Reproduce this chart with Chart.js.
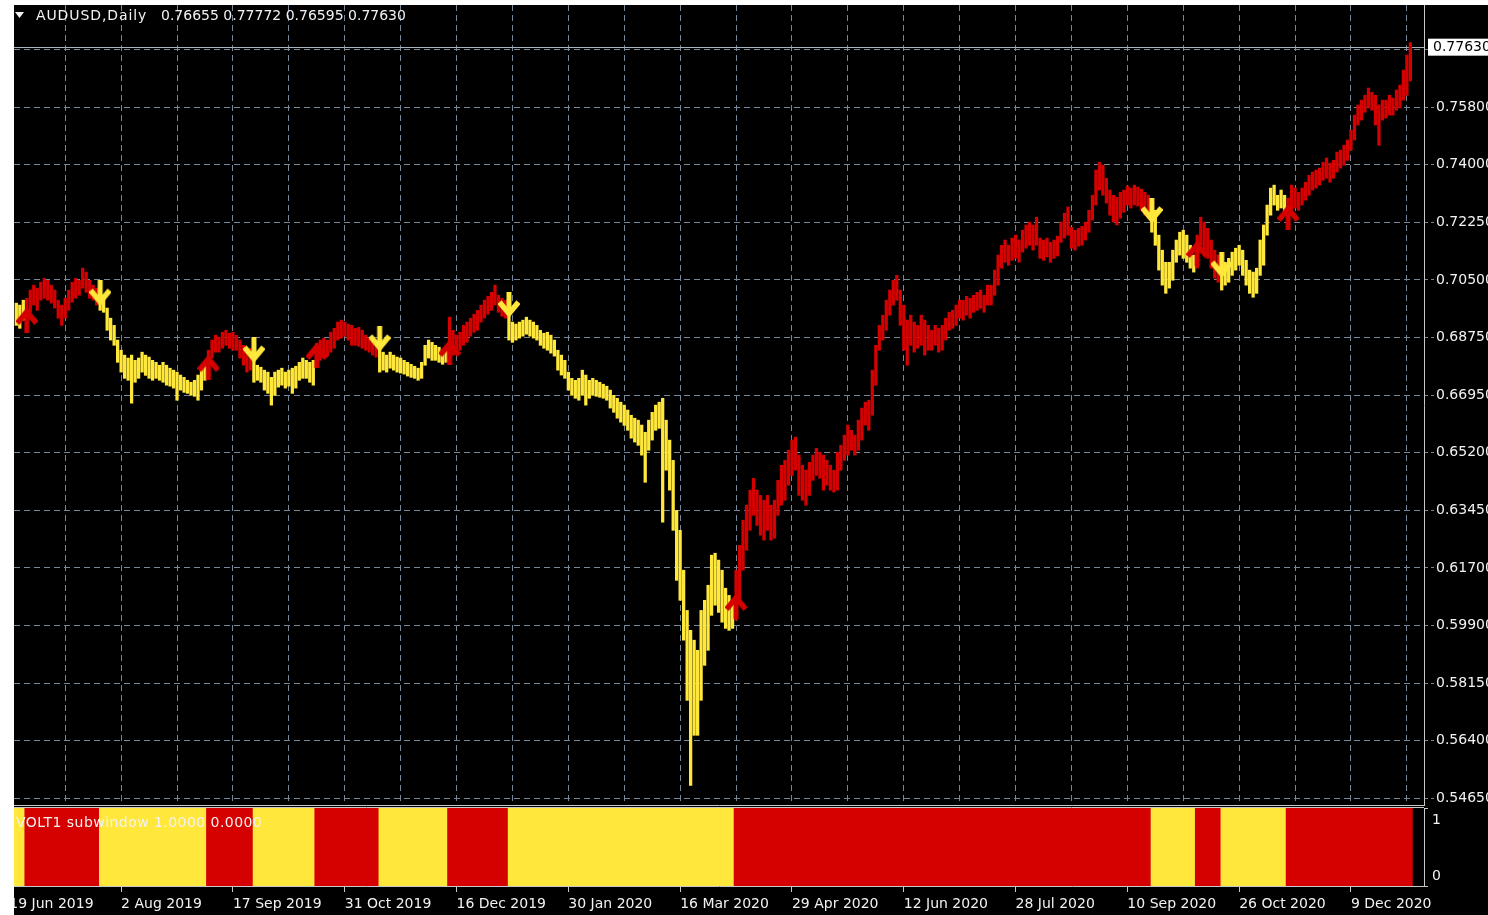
<!DOCTYPE html>
<html>
<head>
<meta charset="utf-8">
<script src="https://cdn.jsdelivr.net/npm/chart.js@4.4.1/dist/chart.umd.min.js"></script>
<style>
  html, body { margin: 0; padding: 0; background: #fff; }
  body { width: 1488px; height: 915px; position: relative; overflow: hidden; }
  #panel { position: absolute; left: 14px; top: 5px; width: 1474px; height: 910px; background: #000; }
  #main { position: absolute; left: 14px; top: 5px; width: 1474px; height: 801px; }
  #sub { position: absolute; left: 14px; top: 806px; width: 1474px; height: 109px; }
</style>
</head>
<body>
<div id="panel"></div>
<div id="main"><canvas id="mainChart"></canvas></div>
<div id="sub"><canvas id="subChart"></canvas></div>
<script>
const symbol = "AUDUSD,Daily";
const indicatorName = "VOLT1 subwindow";
const lastBar = [0.76655, 0.77772, 0.76595, 0.77630]; // open, high, low, close

// daily highs / lows, bar 0 = left edge
const highs = [
  0.6980,0.6974,0.6989,0.6995,0.7020,0.7035,0.7026,0.7044,0.7056,0.7050,
  0.7035,0.7020,0.6989,0.6974,0.6995,0.7020,0.7044,0.7056,0.7050,0.7087,
  0.7075,0.7050,0.7035,0.7026,0.7020,0.7004,0.6965,0.6934,0.6912,0.6867,
  0.6836,0.6821,0.6812,0.6821,0.6805,0.6812,0.6830,0.6821,0.6815,0.6805,
  0.6799,0.6790,0.6799,0.6790,0.6781,0.6775,0.6769,0.6760,0.6753,0.6744,
  0.6738,0.6744,0.6760,0.6781,0.6799,0.6836,0.6867,0.6882,0.6876,0.6891,
  0.6897,0.6888,0.6891,0.6882,0.6867,0.6851,0.6836,0.6842,0.6860,0.6790,
  0.6784,0.6775,0.6769,0.6753,0.6769,0.6775,0.6781,0.6769,0.6775,0.6781,
  0.6787,0.6799,0.6812,0.6805,0.6799,0.6805,0.6857,0.6867,0.6873,0.6867,
  0.6891,0.6903,0.6922,0.6928,0.6922,0.6916,0.6912,0.6903,0.6906,0.6897,
  0.6882,0.6873,0.6867,0.6860,0.6882,0.6830,0.6821,0.6830,0.6821,0.6815,
  0.6812,0.6805,0.6799,0.6793,0.6787,0.6781,0.6799,0.6851,0.6867,0.6860,
  0.6851,0.6845,0.6836,0.6842,0.6937,0.6897,0.6882,0.6891,0.6912,0.6922,
  0.6934,0.6946,0.6958,0.6974,0.6989,0.7001,0.7013,0.7035,0.7004,0.6995,
  0.6989,0.6989,0.6922,0.6916,0.6922,0.6928,0.6937,0.6928,0.6922,0.6912,
  0.6897,0.6888,0.6891,0.6882,0.6867,0.6836,0.6821,0.6805,0.6769,0.6750,
  0.6744,0.6750,0.6775,0.6760,0.6744,0.6750,0.6744,0.6738,0.6732,0.6726,
  0.6714,0.6698,0.6689,0.6677,0.6668,0.6653,0.6637,0.6628,0.6622,0.6607,
  0.6585,0.6622,0.6646,0.6668,0.6677,0.6689,0.6622,0.6561,0.6499,0.6346,
  0.6285,0.6163,0.6040,0.5979,0.5949,0.5918,0.6040,0.6071,0.6117,0.6209,
  0.6215,0.6194,0.6163,0.6108,0.6086,0.6071,0.6163,0.6239,0.6316,0.6362,
  0.6408,0.6444,0.6408,0.6392,0.6377,0.6392,0.6362,0.6377,0.6438,0.6484,
  0.6499,0.6530,0.6561,0.6570,0.6515,0.6484,0.6469,0.6493,0.6515,0.6536,
  0.6524,0.6515,0.6499,0.6484,0.6469,0.6524,0.6545,0.6576,0.6607,0.6591,
  0.6576,0.6622,0.6659,0.6677,0.6683,0.6775,0.6851,0.6912,0.6943,0.6989,
  0.7020,0.7050,0.7065,0.7020,0.6974,0.6928,0.6943,0.6922,0.6912,0.6943,
  0.6928,0.6912,0.6897,0.6912,0.6903,0.6912,0.6934,0.6952,0.6958,0.6974,
  0.6989,0.6989,0.7001,0.6995,0.7004,0.7013,0.7020,0.7004,0.7035,0.7035,
  0.7081,0.7127,0.7157,0.7173,0.7157,0.7179,0.7188,0.7173,0.7203,0.7219,
  0.7228,0.7219,0.7243,0.7179,0.7173,0.7179,0.7166,0.7173,0.7185,0.7228,
  0.7255,0.7274,0.7212,0.7203,0.7209,0.7215,0.7228,0.7264,0.7310,0.7387,
  0.7411,0.7402,0.7362,0.7326,0.7310,0.7304,0.7319,0.7326,0.7338,0.7332,
  0.7341,0.7335,0.7329,0.7319,0.7310,0.7295,0.7264,0.7188,0.7142,0.7105,
  0.7105,0.7142,0.7173,0.7197,0.7203,0.7188,0.7157,0.7127,0.7188,0.7243,
  0.7228,0.7209,0.7173,0.7142,0.7127,0.7127,0.7105,0.7117,0.7136,0.7148,
  0.7157,0.7142,0.7111,0.7081,0.7075,0.7087,0.7173,0.7219,0.7280,0.7332,
  0.7341,0.7310,0.7326,0.7310,0.7301,0.7341,0.7332,0.7319,0.7332,0.7350,
  0.7371,0.7381,0.7387,0.7393,0.7411,0.7424,0.7408,0.7417,0.7442,0.7448,
  0.7463,0.7479,0.7509,0.7555,0.7586,0.7601,0.7616,0.7638,0.7625,0.7616,
  0.7586,0.7601,0.7601,0.7616,0.7607,0.7632,0.7647,0.7693,0.7739,0.77772
];
const lows = [
  0.6912,0.6903,0.6928,0.6934,0.6952,0.6974,0.6958,0.6989,0.6995,0.6989,
  0.6980,0.6965,0.6934,0.6912,0.6934,0.6958,0.6983,0.6995,0.7004,0.7026,
  0.7013,0.6995,0.6989,0.6974,0.6958,0.6952,0.6897,0.6867,0.6851,0.6799,
  0.6769,0.6750,0.6744,0.6674,0.6738,0.6750,0.6769,0.6759,0.6750,0.6744,
  0.6750,0.6744,0.6738,0.6729,0.6726,0.6720,0.6683,0.6714,0.6707,0.6704,
  0.6698,0.6695,0.6683,0.6714,0.6744,0.6760,0.6812,0.6830,0.6830,0.6842,
  0.6851,0.6842,0.6836,0.6836,0.6812,0.6790,0.6769,0.6775,0.6738,0.6744,
  0.6738,0.6714,0.6704,0.6668,0.6698,0.6723,0.6729,0.6720,0.6726,0.6704,
  0.6720,0.6744,0.6750,0.6750,0.6738,0.6729,0.6784,0.6805,0.6812,0.6818,
  0.6830,0.6842,0.6867,0.6873,0.6879,0.6867,0.6851,0.6851,0.6848,0.6842,
  0.6836,0.6830,0.6821,0.6815,0.6769,0.6775,0.6769,0.6781,0.6775,0.6769,
  0.6766,0.6763,0.6757,0.6753,0.6750,0.6744,0.6750,0.6790,0.6812,0.6805,
  0.6805,0.6799,0.6793,0.6799,0.6812,0.6821,0.6830,0.6836,0.6851,0.6860,
  0.6879,0.6891,0.6897,0.6922,0.6934,0.6946,0.6958,0.6974,0.6952,0.6940,
  0.6934,0.6867,0.6860,0.6867,0.6873,0.6879,0.6885,0.6879,0.6873,0.6867,
  0.6851,0.6842,0.6836,0.6827,0.6818,0.6775,0.6760,0.6750,0.6714,0.6698,
  0.6689,0.6683,0.6698,0.6668,0.6689,0.6698,0.6695,0.6692,0.6689,0.6683,
  0.6659,0.6646,0.6628,0.6616,0.6606,0.6591,0.6567,0.6555,0.6545,0.6515,
  0.6432,0.6530,0.6561,0.6591,0.6597,0.6310,0.6469,0.6408,0.6285,0.6132,
  0.6071,0.5949,0.5765,0.5505,0.5658,0.5658,0.5765,0.5872,0.5918,0.6025,
  0.6056,0.6034,0.6004,0.5985,0.5979,0.5985,0.6010,0.6071,0.6163,0.6224,
  0.6285,0.6331,0.6300,0.6270,0.6255,0.6285,0.6255,0.6261,0.6331,0.6362,
  0.6377,0.6423,0.6453,0.6469,0.6392,0.6377,0.6362,0.6392,0.6438,0.6453,
  0.6444,0.6408,0.6423,0.6408,0.6402,0.6408,0.6469,0.6499,0.6515,0.6530,
  0.6515,0.6530,0.6561,0.6607,0.6591,0.6637,0.6729,0.6836,0.6867,0.6897,
  0.6943,0.6974,0.6989,0.6912,0.6836,0.6790,0.6851,0.6830,0.6842,0.6851,
  0.6821,0.6836,0.6836,0.6851,0.6830,0.6836,0.6867,0.6897,0.6903,0.6912,
  0.6934,0.6928,0.6943,0.6934,0.6952,0.6958,0.6964,0.6952,0.6974,0.6974,
  0.7004,0.7035,0.7087,0.7105,0.7096,0.7111,0.7117,0.7105,0.7136,0.7148,
  0.7157,0.7142,0.7157,0.7117,0.7111,0.7121,0.7105,0.7117,0.7124,0.7166,
  0.7179,0.7188,0.7148,0.7142,0.7154,0.7157,0.7173,0.7197,0.7234,0.7280,
  0.7326,0.7310,0.7286,0.7249,0.7228,0.7219,0.7240,0.7258,0.7280,0.7271,
  0.7280,0.7277,0.7264,0.7249,0.7240,0.7197,0.7157,0.7081,0.7035,0.7010,
  0.7026,0.7050,0.7105,0.7127,0.7117,0.7105,0.7087,0.7075,0.7087,0.7157,
  0.7142,0.7117,0.7087,0.7056,0.7044,0.7020,0.7035,0.7044,0.7065,0.7081,
  0.7096,0.7065,0.7035,0.7010,0.6998,0.7010,0.7065,0.7096,0.7188,0.7249,
  0.7280,0.7264,0.7271,0.7249,0.7228,0.7264,0.7271,0.7264,0.7280,0.7295,
  0.7310,0.7326,0.7332,0.7341,0.7356,0.7362,0.7350,0.7362,0.7381,0.7393,
  0.7402,0.7417,0.7448,0.7479,0.7525,0.7540,0.7564,0.7577,0.7570,0.7525,
  0.7463,0.7540,0.7546,0.7555,0.7555,0.7570,0.7577,0.7601,0.7616,0.76595
];

// indicator state: [value, number of bars], 1 = red (up), 0 = yellow (down)
const trendRuns = [[0,3],[1,21],[0,31],[1,13],[0,18],[1,18],[0,20],[1,17],[0,65],[1,119],[0,13],[1,7],[0,19],[1,36]];

// signal arrows: [bar, price]
const upArrows = [[3,0.6928],[55,0.6784],[86,0.6821],[124,0.6830],[206,0.6053],[338,0.7133],[364,0.7243]];
const downArrows = [[24,0.7010],[68,0.6836],[104,0.6870],[141,0.6974],[325,0.7262],[345,0.7096]];

// price scale labels (bottom to top)
const priceLabels = ["0.54650","0.56400","0.58150","0.59900","0.61700","0.63450","0.65200",
  "0.66950","0.68750","0.70500","0.72250","0.74000","0.75800","0.77550"];
const dateLabels = ["19 Jun 2019","2 Aug 2019","17 Sep 2019","31 Oct 2019","16 Dec 2019","30 Jan 2020",
  "16 Mar 2020","29 Apr 2020","12 Jun 2020","28 Jul 2020","10 Sep 2020","26 Oct 2020","9 Dec 2020"];

// view window
const priceMin = 0.544481, priceMax = 0.789202;
const gridBase = 0.5465, gridStep = 0.01762;
const xMin = -0.66, xMax = 402.9;
const firstTick = -2, gridEvery = 16, labelEvery = 32;

const RED = "#D50000";
const YELLOW = "#FFE83B";
const GRID = "#778899";
const FRAME = "#C8C8C8";
const TEXT = "#F2F2F2";

Chart.defaults.font.family = "'DejaVu Sans', sans-serif";
Chart.defaults.font.size = 14;
Chart.defaults.color = TEXT;

// expand the runs into one value per bar
const trend = [];
for (const [v, n] of trendRuns) {
  for (let k = 0; k < n; k++) trend.push(v);
}

function makeArrow(color, up) {
  const c = document.createElement("canvas");
  c.width = 22;
  c.height = 26;
  const g = c.getContext("2d");
  if (!up) { g.translate(0, 26); g.scale(1, -1); }
  g.fillStyle = color;
  g.strokeStyle = color;
  g.fillRect(8.5, 7, 5, 19);
  g.lineWidth = 5.5;
  g.lineJoin = "miter";
  g.beginPath();
  g.moveTo(1.5, 16);
  g.lineTo(11, 4.5);
  g.lineTo(20.5, 16);
  g.stroke();
  return c;
}

// vertical grid every 16 bars (the one left of the window is skipped)
const gridTicks = [];
for (let v = firstTick + gridEvery; v <= xMax; v += gridEvery) gridTicks.push({ value: v });
const dateTicks = dateLabels.map((t, k) => ({ value: firstTick + k * labelEvery }));
const priceTicks = priceLabels.map((t, k) => ({ value: gridBase + k * gridStep }));

function fixWidth(s) {
  s.width = 64;
  s.paddingTop = 0;
  s.paddingBottom = 0;
}

const mainOverlay = {
  id: "mainOverlay",
  beforeDatasetsDraw(chart) {
    const { ctx, chartArea, scales } = chart;
    const py = Math.round(scales.y.getPixelForValue(lastBar[3])) + 0.5;
    ctx.save();
    ctx.strokeStyle = "#A8B2BE";
    ctx.lineWidth = 1;
    ctx.beginPath();
    ctx.moveTo(chartArea.left, py);
    ctx.lineTo(chartArea.right, py);
    ctx.stroke();
    ctx.restore();
  },
  afterDraw(chart) {
    const { ctx, chartArea, scales } = chart;
    ctx.save();
    // header
    ctx.fillStyle = TEXT;
    ctx.beginPath();
    ctx.moveTo(1, 7);
    ctx.lineTo(10, 7);
    ctx.lineTo(5.5, 13);
    ctx.closePath();
    ctx.fill();
    ctx.font = "14px 'DejaVu Sans'";
    ctx.textBaseline = "middle";
    ctx.letterSpacing = "0.9px";
    ctx.fillText(symbol, 22, 11);
    ctx.letterSpacing = "0px";
    ctx.fillText(lastBar.map(v => v.toFixed(5)).join(" "), 147, 11);
    // bid label on the price scale
    const py = scales.y.getPixelForValue(lastBar[3]);
    ctx.fillStyle = "#FFFFFF";
    ctx.fillRect(chartArea.right + 4, py - 8.5, 80, 17);
    ctx.fillStyle = "#000000";
    ctx.fillText(lastBar[3].toFixed(5), chartArea.right + 9, py + 0.5);
    ctx.restore();
  }
};

new Chart(document.getElementById("mainChart"), {
  type: "bar",
  data: {
    datasets: [
      {
        type: "scatter",
        label: "up",
        data: upArrows.map(([i, p]) => ({ x: i, y: p })),
        pointStyle: makeArrow(RED, true),
        pointRadius: 10,
        order: 0
      },
      {
        type: "scatter",
        label: "down",
        data: downArrows.map(([i, p]) => ({ x: i, y: p })),
        pointStyle: makeArrow(YELLOW, false),
        pointRadius: 10,
        order: 0
      },
      {
        label: symbol,
        data: highs.map((h, i) => ({ x: i, y: [lows[i], h] })),
        backgroundColor: trend.map(v => (v ? RED : YELLOW)),
        borderWidth: 0,
        barThickness: 2.6,
        order: 1
      }
    ]
  },
  options: {
    animation: false,
    responsive: true,
    maintainAspectRatio: false,
    events: [],
    layout: { padding: 0, autoPadding: false },
    plugins: { legend: { display: false }, tooltip: { enabled: false } },
    scales: {
      x: {
        type: "linear",
        min: xMin,
        max: xMax,
        offset: false,
        afterBuildTicks: s => { s.ticks = gridTicks.slice(); },
        afterFit: s => { s.height = 1; s.paddingLeft = 0; s.paddingRight = 0; },
        grid: { color: GRID, lineWidth: 1, drawTicks: false, offset: false },
        border: { display: true, color: FRAME, width: 1, dash: [6, 4] },
        ticks: { display: false, padding: 0, callback: () => "" }
      },
      y: {
        type: "linear",
        position: "right",
        min: priceMin,
        max: priceMax,
        afterBuildTicks: s => { s.ticks = priceTicks.slice(); },
        afterFit: fixWidth,
        grid: { color: GRID, lineWidth: 1, tickLength: 12, tickColor: GRID, tickBorderDash: [3, 3] },
        border: { display: true, color: FRAME, width: 1, dash: [6, 4] },
        ticks: {
          color: TEXT,
          padding: 0,
          font: { size: 14, lineHeight: 0 },
          callback: (v, idx) => priceLabels[idx]
        }
      }
    }
  },
  plugins: [mainOverlay]
});

const subOverlay = {
  id: "subOverlay",
  afterDraw(chart) {
    const { ctx, chartArea, scales } = chart;
    ctx.save();
    ctx.strokeStyle = FRAME;
    ctx.lineWidth = 1;
    ctx.beginPath();
    ctx.moveTo(chartArea.left, chartArea.top - 0.5);
    ctx.lineTo(chartArea.right, chartArea.top - 0.5);
    ctx.stroke();
    ctx.font = "14px 'DejaVu Sans'";
    ctx.textBaseline = "middle";
    ctx.fillStyle = TEXT;
    const last = trend[trend.length - 1];
    ctx.letterSpacing = "0.45px";
    ctx.fillText(indicatorName + " " + last.toFixed(4) + " " + (1 - last).toFixed(4), 2, 17);
    ctx.letterSpacing = "0px";
    // scale labels, pulled inside the window like the terminal does
    ctx.fillText("1", chartArea.right + 8, scales.y.getPixelForValue(1) + 12);
    ctx.fillText("0", chartArea.right + 8, scales.y.getPixelForValue(0) - 10);
    ctx.restore();
  }
};

new Chart(document.getElementById("subChart"), {
  type: "bar",
  data: {
    datasets: [
      {
        label: "up",
        data: trend.map((v, i) => ({ x: i, y: v === 1 ? 1 : null })),
        backgroundColor: RED,
        borderWidth: 0,
        barPercentage: 1,
        categoryPercentage: 1,
        inflateAmount: 0.6,
        grouped: false
      },
      {
        label: "down",
        data: trend.map((v, i) => ({ x: i, y: v === 0 ? 1 : null })),
        backgroundColor: YELLOW,
        borderWidth: 0,
        barPercentage: 1,
        categoryPercentage: 1,
        inflateAmount: 0.6,
        grouped: false
      }
    ]
  },
  options: {
    animation: false,
    responsive: true,
    maintainAspectRatio: false,
    events: [],
    layout: { padding: { top: 2 }, autoPadding: false },
    plugins: { legend: { display: false }, tooltip: { enabled: false } },
    scales: {
      x: {
        type: "linear",
        min: xMin,
        max: xMax,
        offset: false,
        afterBuildTicks: s => { s.ticks = dateTicks.slice(); },
        afterFit: s => { s.height = 29; s.paddingLeft = 0; s.paddingRight = 0; },
        grid: { drawOnChartArea: false, drawTicks: true, tickLength: 6, tickColor: FRAME, offset: false },
        border: { display: true, color: FRAME, width: 1 },
        ticks: {
          autoSkip: false,
          maxRotation: 0,
          align: "start",
          padding: 4,
          color: TEXT,
          callback: (v, idx) => dateLabels[idx]
        }
      },
      y: {
        position: "right",
        min: 0,
        max: 1,
        afterBuildTicks: s => { s.ticks = [{ value: 0 }, { value: 1 }]; },
        afterFit: fixWidth,
        grid: { drawOnChartArea: false, tickLength: 4, tickColor: FRAME },
        border: { display: true, color: FRAME, width: 1 },
        ticks: { display: false }
      }
    }
  },
  plugins: [subOverlay]
});
</script>
</body>
</html>
